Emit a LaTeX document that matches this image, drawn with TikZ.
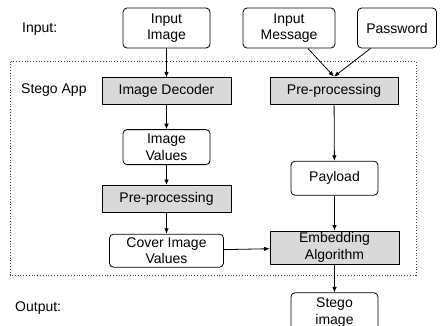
\documentclass[tikz,border=0pt]{standalone}
\usepackage{fontspec}
\setmainfont{Liberation Sans}
\usetikzlibrary{arrows.meta,positioning}
\definecolor{stegoGray}{HTML}{D9D9D9}
\tikzset{
    databox/.style={
        draw=black,
        fill=white,
        rectangle,
        rounded corners=4pt,
        align=center,
        minimum height=40pt,
        minimum width=87pt,
        inner sep=1pt,
        line width=0.8pt,
        font=\fontsize{14}{16.5}\selectfont
    },
    procbox/.style={
        draw=black,
        fill=stegoGray,
        rectangle,
        align=center,
        minimum height=27pt,
        minimum width=129pt,
        inner sep=1pt,
        line width=0.8pt,
        font=\fontsize{14}{16.5}\selectfont
    },
    arrow/.style={
        -{Latex[length=5.5pt,width=4.5pt]},
        line width=0.8pt
    },
    tag/.style={
        anchor=west,
        inner sep=0pt,
        font=\fontsize{14}{16.5}\selectfont
    },
    appframe/.style={
        dotted,
        line width=0.8pt,
        draw=black!75
    }
}
\begin{document}
\begin{tikzpicture}[x=1pt,y=-1pt]
    \useasboundingbox (0,0) rectangle (443,325);
    % App frame
    \draw[appframe] (10,61.5) rectangle (416,275);

    % Row labels
    \node[tag] (lblin) at (22,29) {Input:};
    \node[tag] (lblapp) at (21,90) {Stego App};
    \node[tag] (lblout) at (15,308) {Output:};

    % Inputs
    \node[databox] (img) at (166.5,28) {Input\\Image};
    \node[databox, minimum width=92pt] (msg) at (289,28) {Input\\Message};
    \node[databox, minimum width=79pt] (pwd) at (397,28) {Password};

    % Image side
    \node[procbox, below=29pt of img] (decoder) {Image Decoder};
    \node[databox, minimum height=35pt, below=24pt of decoder] (values) {Image\\Values};
    \node[procbox, below=20pt of values] (prepimg) {Pre-processing};
    \node[databox, minimum height=33pt, minimum width=114pt, below=21pt of prepimg] (cover) {Cover Image\\Values};

    % Message side
    \node[procbox, minimum width=128pt] (prepmsg) at (334,90.5) {Pre-processing};
    \node[procbox, minimum height=33pt] (embed) at (334.5,247.5) {Embedding\\Algorithm};
    \node[databox, minimum height=34pt, above=35pt of embed] (payload) {Payload};

    % Output
    \node[databox, below=28pt of embed] (stego) {Stego\\image};

    % Arrows
    \draw[arrow] (img) -- (decoder);
    \draw[arrow] (msg) -- (prepmsg.north);
    \draw[arrow] (pwd) -- (prepmsg.north);
    \draw[arrow] (decoder) -- (values);
    \draw[arrow] (values) -- (prepimg);
    \draw[arrow] (prepimg) -- (cover);
    \draw[arrow] (prepmsg) -- (payload);
    \draw[arrow] (payload) -- (embed);
    \draw[arrow] (cover) -- (embed);
    \draw[arrow] (embed) -- (stego);
\end{tikzpicture}
\end{document}
